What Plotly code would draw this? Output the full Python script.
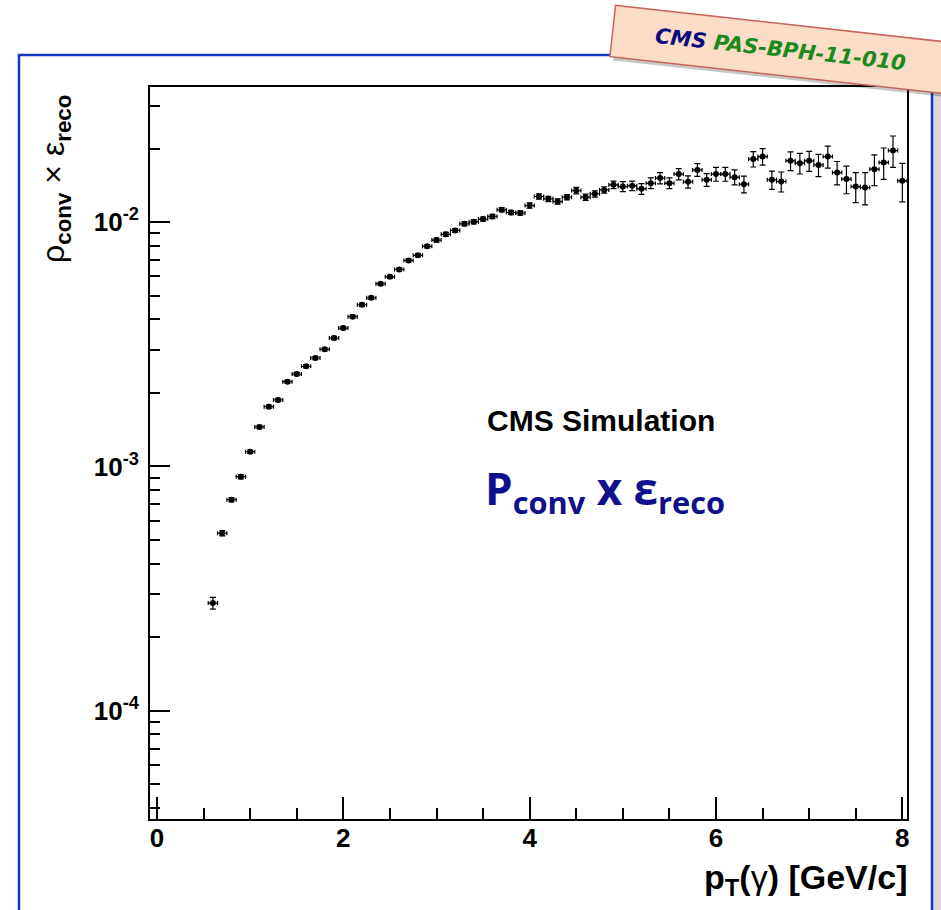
import plotly.graph_objects as go

# ---------------- data ----------------
pt_centers = [0.6, 0.7, 0.8, 0.9, 1.0, 1.1, 1.2, 1.3, 1.4, 1.5, 1.6, 1.7, 1.8, 1.9,
              2.0, 2.1, 2.2, 2.3, 2.4, 2.5, 2.6, 2.7, 2.8, 2.9, 3.0, 3.1, 3.2, 3.3,
              3.4, 3.5, 3.6, 3.7, 3.8, 3.9, 4.0, 4.1, 4.2, 4.3, 4.4, 4.5, 4.6, 4.7,
              4.8, 4.9, 5.0, 5.1, 5.2, 5.3, 5.4, 5.5, 5.6, 5.7, 5.8, 5.9, 6.0, 6.1,
              6.2, 6.3, 6.4, 6.5, 6.6, 6.7, 6.8, 6.9, 7.0, 7.1, 7.2, 7.3, 7.4, 7.5,
              7.6, 7.7, 7.8, 7.9, 8.0]
bin_half_width = 0.05

eff_values = [2.76e-4, 5.33e-4, 7.31e-4, 9.08e-4, 1.149e-3, 1.451e-3, 1.756e-3, 1.871e-3,
              2.222e-3, 2.389e-3, 2.57e-3, 2.779e-3, 3.015e-3, 3.354e-3, 3.685e-3, 4.10e-3,
              4.59e-3, 4.90e-3, 5.59e-3, 5.97e-3, 6.40e-3, 6.97e-3, 7.31e-3, 7.96e-3,
              8.44e-3, 8.91e-3, 9.25e-3, 9.84e-3, 1.003e-2, 1.029e-2, 1.055e-2, 1.123e-2,
              1.095e-2, 1.089e-2, 1.169e-2, 1.273e-2, 1.245e-2, 1.214e-2, 1.265e-2, 1.346e-2,
              1.265e-2, 1.305e-2, 1.355e-2, 1.421e-2, 1.398e-2, 1.408e-2, 1.368e-2, 1.444e-2,
              1.514e-2, 1.444e-2, 1.572e-2, 1.462e-2, 1.636e-2, 1.489e-2, 1.572e-2, 1.572e-2,
              1.528e-2, 1.43e-2, 1.811e-2, 1.855e-2, 1.489e-2, 1.466e-2, 1.781e-2, 1.743e-2,
              1.781e-2, 1.715e-2, 1.855e-2, 1.595e-2, 1.50e-2, 1.398e-2, 1.385e-2, 1.647e-2,
              1.753e-2, 1.963e-2, 1.475e-2]

rel_errors = [0.055, 0.025, 0.02, 0.02, 0.015, 0.015, 0.015, 0.015, 0.015, 0.015, 0.015,
              0.015, 0.015, 0.015, 0.015, 0.015, 0.015, 0.015, 0.015, 0.015, 0.015, 0.015,
              0.015, 0.015, 0.018, 0.018, 0.018, 0.02, 0.02, 0.02, 0.02, 0.02, 0.02, 0.02,
              0.025, 0.025, 0.025, 0.025, 0.025, 0.03, 0.03, 0.03, 0.03, 0.035, 0.047, 0.045,
              0.05, 0.05, 0.053, 0.05, 0.053, 0.057, 0.06, 0.06, 0.065, 0.065, 0.07, 0.078,
              0.072, 0.078, 0.085, 0.094, 0.088, 0.097, 0.094, 0.104, 0.104, 0.11, 0.129,
              0.141, 0.15, 0.144, 0.147, 0.147, 0.18]

x_tick_vals = [0, 2, 4, 6, 8]
y_tick_vals = [1e-4, 1e-3, 1e-2]
y_tick_text = ["<b>10<sup>-4</sup></b>", "<b>10<sup>-3</sup></b>", "<b>10<sup>-2</sup></b>"]
y_minor_vals = [m * 10.0 ** e for e in (-5, -4, -3, -2) for m in range(2, 10)]

abs_errors = [v * r for v, r in zip(eff_values, rel_errors)]

# ---------------- geometry ----------------
FIG_W, FIG_H = 941, 910
L, R, T, B = 150, 907, 87, 819
PW, PH = R - L, B - T


def px(x):
    return (x - L) / PW


def py(y):
    return (B - y) / PH


FONT = "Liberation Sans, Arial, Helvetica, sans-serif"

fig = go.Figure()
fig.add_trace(go.Scatter(
    x=pt_centers, y=eff_values, mode="markers",
    marker=dict(color="black", size=6, symbol="circle"),
    error_x=dict(type="constant", value=bin_half_width, color="black", thickness=1.2, width=2),
    error_y=dict(type="data", array=abs_errors, color="black", thickness=1.2, width=3),
    showlegend=False, hoverinfo="x+y",
))

fig.update_layout(
    width=FIG_W, height=FIG_H,
    margin=dict(l=L, r=FIG_W - R, t=T, b=FIG_H - B, pad=0),
    paper_bgcolor="white", plot_bgcolor="white",
    font=dict(family=FONT, color="black"),
    xaxis=dict(
        range=[-0.075, 8.05], tickmode="array", tickvals=x_tick_vals,
        ticks="inside", ticklen=22, tickwidth=1.5, tickcolor="black",
        minor=dict(dtick=0.5, tick0=0, ticks="inside", ticklen=11, tickwidth=1.5, tickcolor="black", showgrid=False),
        showline=True, linecolor="black", linewidth=2, mirror=True,
        showgrid=False, zeroline=False, ticklabelstandoff=-5,
        tickfont=dict(size=26, family=FONT, weight="bold", color="black"),
    ),
    yaxis=dict(
        type="log", range=[-4.443, -1.447], tickmode="array",
        tickvals=y_tick_vals, ticktext=y_tick_text,
        ticks="inside", ticklen=20, tickwidth=1.5, tickcolor="black",
        minor=dict(tickvals=y_minor_vals, ticks="inside", ticklen=10, tickwidth=1.5, tickcolor="black", showgrid=False),
        showline=True, linecolor="black", linewidth=2, mirror=True,
        showgrid=False, zeroline=False, ticklabelstandoff=4,
        tickfont=dict(size=26, family=FONT, color="black"),
    ),
)

# outer blue frame + shadow
fig.add_shape(type="rect", xref="paper", yref="paper",
              x0=px(933), x1=px(941), y0=py(930), y1=py(58),
              line=dict(width=0), fillcolor="rgba(0,0,0,0.15)", layer="below")
fig.add_shape(type="rect", xref="paper", yref="paper",
              x0=px(19), x1=px(932), y0=py(930), y1=py(55),
              line=dict(color="#1536c0", width=2.5), fillcolor="rgba(0,0,0,0)", layer="below")

annotations = []
# label box shadow
annotations.append(dict(
    xref="paper", yref="paper", x=px(783), y=py(54), xanchor="center", yanchor="middle",
    text=" ", showarrow=False, textangle=6.3, width=334, height=48,
    bgcolor="rgba(0,0,0,0.22)", borderwidth=0,
))
annotations.append(dict(
    xref="paper", yref="paper", x=px(780), y=py(49), xanchor="center", yanchor="middle",
    text="<b><i><span style='color:#0a0a80'>CMS</span> <span style='color:#1a8a1a'>PAS-BPH-11-010</span></i></b>",
    showarrow=False, textangle=6.3, width=334, height=48,
    font=dict(family="DejaVu Sans, sans-serif", size=21),
    bgcolor="#fbdcc6", bordercolor="#c8645a", borderwidth=1.5,
))
# y title
annotations.append(dict(
    xref="paper", yref="paper", x=px(55), y=py(179), xanchor="center", yanchor="middle",
    text="ρ<sub><b>conv</b></sub> × ε<sub><b>reco</b></sub>", showarrow=False, textangle=-90,
    font=dict(family=FONT, size=32, color="black"),
))
# x title
annotations.append(dict(
    xref="paper", yref="paper", x=px(909), y=py(879), xanchor="right", yanchor="middle",
    text="<b>p<sub>T</sub>(</b>γ<b>) [GeV/c]</b>", showarrow=False,
    font=dict(family=FONT, size=34, color="black"),
))
# CMS Simulation
annotations.append(dict(
    xref="paper", yref="paper", x=px(601), y=py(421), xanchor="center", yanchor="middle",
    text="<b>CMS Simulation</b>", showarrow=False,
    font=dict(family=FONT, size=30, color="black"),
))
# P_conv x eps_reco
annotations.append(dict(
    xref="paper", yref="paper", x=px(605), y=py(490), xanchor="center", yanchor="middle",
    text="<b>P<sub>conv</sub> x ε<sub>reco</sub></b>", showarrow=False,
    font=dict(family="Open Sans, sans-serif", size=44, color="#10108c"),
))
fig.update_layout(annotations=annotations)

fig.write_html("out.html")
